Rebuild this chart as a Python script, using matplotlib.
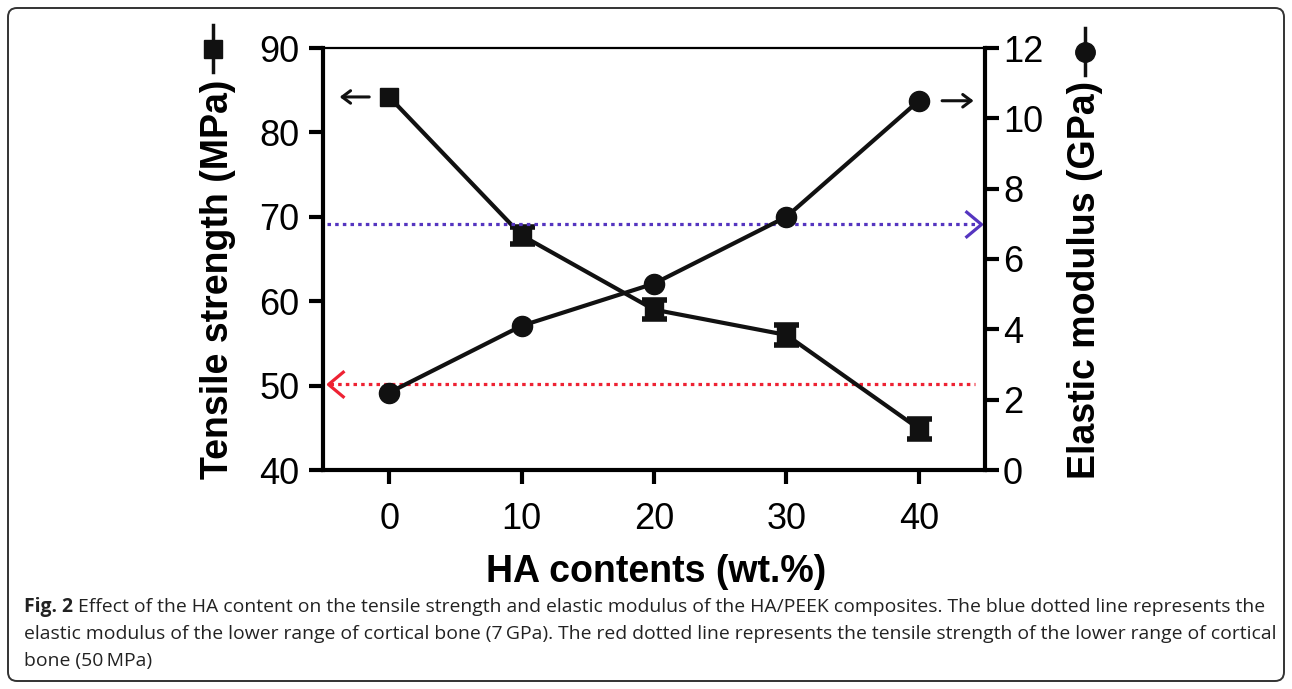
import math
import matplotlib
matplotlib.use("Agg")
import matplotlib.pyplot as plt
import matplotlib.transforms as mtransforms
from matplotlib.patches import FancyBboxPatch
from matplotlib import font_manager

# ---------------- data ----------------
ha_content = [0, 10, 20, 30, 40]
tensile_strength = [84.2, 67.8, 59.0, 56.0, 44.9]
tensile_err = [0.0, 1.0, 1.1, 1.2, 1.2]
elastic_modulus = [2.2, 4.1, 5.3, 7.2, 10.5]
cortical_modulus = 7.0      # GPa (blue dotted)
cortical_tensile = 50.2     # MPa (red dotted)
x_ticks = [0, 10, 20, 30, 40]
left_ticks = [40, 50, 60, 70, 80, 90]
right_ticks = [0, 2, 4, 6, 8, 10, 12]

caption_bold = "Fig. 2"
caption_lines = [
    " Effect of the HA content on the tensile strength and elastic modulus of the HA/PEEK composites. The blue dotted line represents the",
    "elastic modulus of the lower range of cortical bone (7\u2009GPa). The red dotted line represents the tensile strength of the lower range of cortical",
    "bone (50\u2009MPa)",
]

W, H = 1292, 689
fig = plt.figure(figsize=(W / 100, H / 100), dpi=100)
plt.rcParams["font.family"] = ["Liberation Sans", "DejaVu Sans"]

L, R, T, B = 323, 985, 48, 470
ax = fig.add_axes([L / W, 1 - B / H, (R - L) / W, (B - T) / H])
ax2 = ax.twinx()

ax.set_xlim(-5, 45)
ax.set_ylim(40, 90)
ax2.set_ylim(0, 12)

for s in ["left", "bottom"]:
    ax.spines[s].set_linewidth(3)
ax.spines["top"].set_linewidth(1.6)
ax.spines["right"].set_visible(False)
for s in ["left", "bottom", "top"]:
    ax2.spines[s].set_visible(False)
ax2.spines["right"].set_linewidth(3)

ax.set_xticks(x_ticks)
ax.set_yticks(left_ticks)
ax2.set_yticks(right_ticks)
ax.tick_params(axis="x", direction="out", length=10, width=3, labelsize=26, pad=13)
ax.tick_params(axis="y", direction="out", length=10, width=3, labelsize=26, pad=7)
ax2.tick_params(axis="y", direction="out", length=10, width=3, labelsize=26, pad=3)

# reference lines
blue = "#5535C0"
red = "#EE2233"
ax2.axhline(cortical_modulus, xmin=0.006, xmax=0.985, color=blue, lw=2.3,
            ls=(0, (1.1, 1.3)), zorder=1)
ax.axhline(cortical_tensile, xmin=0.01, xmax=0.985, color=red, lw=2.3,
           ls=(0, (1.1, 1.3)), zorder=1)
left_chev = [(1.2, 1), (0, 0), (1.2, -1)]
right_chev = [(-1.2, 1), (0, 0), (-1.2, -1)]
tr1 = mtransforms.blended_transform_factory(ax.transAxes, ax.transData)
tr2 = mtransforms.blended_transform_factory(ax2.transAxes, ax2.transData)
ax.plot([0.007], [cortical_tensile], transform=tr1, marker=left_chev, ms=23,
        mfc="none", mec=red, mew=2.3, ls="none", zorder=2)
ax2.plot([0.994], [cortical_modulus], transform=tr2, marker=right_chev, ms=23,
         mfc="none", mec=blue, mew=2.3, ls="none", zorder=2)

# data
dark = "#111111"
ax.plot(ha_content, tensile_strength, "-s", color=dark, lw=3, ms=13, zorder=5)
err_x = [x for x, e in zip(ha_content, tensile_err) if e > 0]
err_y = [y for y, e in zip(tensile_strength, tensile_err) if e > 0]
err_e = [e for e in tensile_err if e > 0]
ax.errorbar(err_x, err_y, yerr=err_e, fmt="none", ecolor=dark, capsize=9,
            capthick=4, elinewidth=3, zorder=5)
ax2.plot(ha_content, elastic_modulus, "-o", color=dark, lw=3, ms=14.5, zorder=5)

# direction arrows
ax.annotate("", xy=(ha_content[0] - 3.95, tensile_strength[0]),
            xytext=(ha_content[0] - 1.3, tensile_strength[0]),
            arrowprops=dict(arrowstyle="->,head_length=0.6,head_width=0.45", lw=2.2, color=dark))
ax2.annotate("", xy=(ha_content[-1] + 4.35, elastic_modulus[-1]),
             xytext=(ha_content[-1] + 1.55, elastic_modulus[-1]),
             arrowprops=dict(arrowstyle="->,head_length=0.6,head_width=0.45", lw=2.2, color=dark))

# axis labels
fig.text(218 / W, 1 - 279 / H, "Tensile strength (MPa)", rotation=90, fontsize=27,
         fontweight="bold", ha="center", va="center")
fig.text(1085 / W, 1 - 280 / H, "Elastic modulus (GPa)", rotation=90, fontsize=27,
         fontweight="bold", ha="center", va="center")
fig.text(656 / W, 1 - 572 / H, "HA contents (wt.%)", fontsize=27, fontweight="bold",
         ha="center", va="center")

# legend-like symbols in labels (line with a marker in the middle)
fig.add_artist(plt.Line2D([213 / W] * 3, [1 - 25 / H, 1 - 49 / H, 1 - 72 / H], color=dark, lw=2.5,
                          marker="s", ms=13, markevery=[1], transform=fig.transFigure))
fig.add_artist(plt.Line2D([1085 / W] * 3, [1 - 28 / H, 1 - 52 / H, 1 - 75 / H], color=dark, lw=2.5,
                          marker="o", ms=14, markevery=[1], transform=fig.transFigure))

# caption
names = {f.name for f in font_manager.fontManager.ttflist}
cap_font = "Liberation Sans Narrow" if "Liberation Sans Narrow" in names else "Open Sans"
cap_color = "#222222"
renderer = fig.canvas.get_renderer()
fs = 13.0
x0 = 24
target_right = 1272
for _ in range(3):
    tb = fig.text(0, 0, caption_bold, fontsize=fs, fontweight="bold", family=[cap_font, "DejaVu Sans"])
    tr = fig.text(0, 0, caption_lines[0], fontsize=fs, family=[cap_font, "DejaVu Sans"])
    wtot = tb.get_window_extent(renderer).width + tr.get_window_extent(renderer).width
    tb.remove(); tr.remove()
    fs = fs * (target_right - x0) / wtot
fs = min(fs, 14)
yl = [607, 634, 661]
tb = fig.text(x0 / W, 1 - yl[0] / H, caption_bold, fontsize=fs, fontweight="bold",
              family=[cap_font, "DejaVu Sans"], va="center", color=cap_color)
bw = tb.get_window_extent(renderer).width
fig.text((x0 + bw) / W, 1 - yl[0] / H, caption_lines[0], fontsize=fs,
         family=[cap_font, "DejaVu Sans"], va="center", color=cap_color)
for yy, line in zip(yl[1:], caption_lines[1:]):
    fig.text(x0 / W, 1 - yy / H, line, fontsize=fs, family=[cap_font, "DejaVu Sans"],
             va="center", color=cap_color)

# rounded frame
frame = FancyBboxPatch((8, 8), W - 16, H - 16, boxstyle="round,pad=0,rounding_size=9",
                       transform=mtransforms.IdentityTransform(), fill=False,
                       ec="#333333", lw=1.4)
fig.add_artist(frame)

fig.savefig("out.png", dpi=100)
